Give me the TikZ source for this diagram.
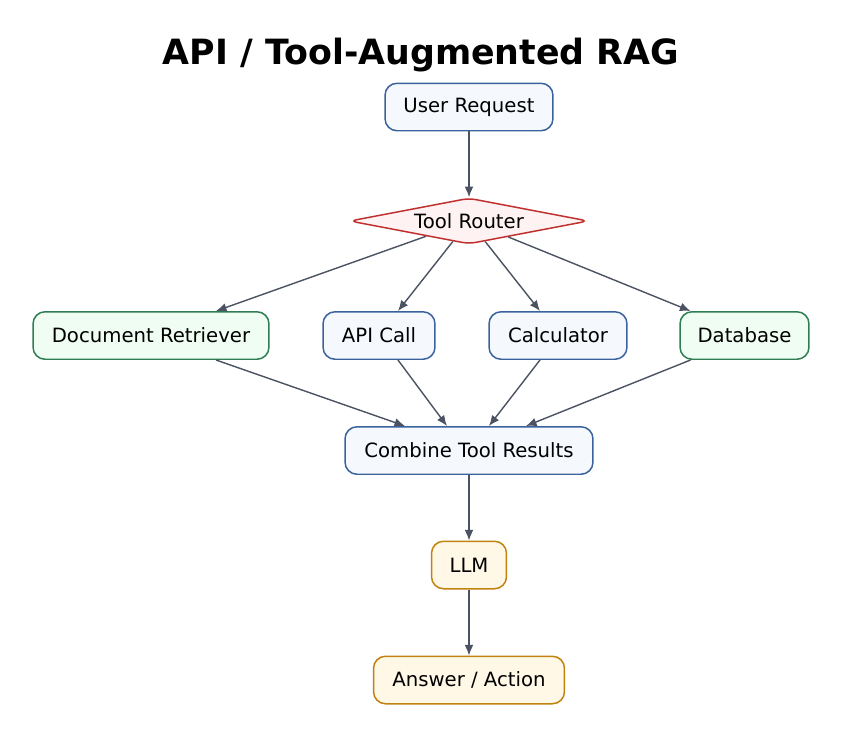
\documentclass[tikz,border=0pt]{standalone}
\usepackage{fontspec}
\setmainfont{DejaVu Sans}
\usepackage{xcolor}
\usetikzlibrary{arrows.meta,positioning,shapes.geometric,calc}

\definecolor{blueline}{HTML}{3A629C}
\definecolor{bluefill}{HTML}{F5F9FE}
\definecolor{greenline}{HTML}{2F7D52}
\definecolor{greenfill}{HTML}{EFFDF3}
\definecolor{orangeline}{HTML}{C2820E}
\definecolor{orangefill}{HTML}{FFF8E7}
\definecolor{redline}{HTML}{C0302F}
\definecolor{redfill}{HTML}{FFF2F2}
\definecolor{edgecol}{HTML}{4B5262}

\begin{document}
\begin{tikzpicture}[
  x=0.02cm, y=-0.02cm,
  cell/.style={draw, rounded corners=0.24cm, line width=0.85pt, minimum height=0.95cm, inner sep=0pt, font=\fontsize{11.2}{13}\selectfont},
  bluecell/.style={cell, draw=blueline, fill=bluefill},
  greencell/.style={cell, draw=greenline, fill=greenfill},
  orangecell/.style={cell, draw=orangeline, fill=orangefill},
  router/.style={diamond, aspect=5, draw=redline, fill=redfill, line width=0.85pt, rounded corners=4pt, minimum width=4.78cm, minimum height=0.92cm, inner sep=0pt, font=\fontsize{11.2}{13}\selectfont},
  arr/.style={-{Latex[length=6pt,width=5pt]}, draw=edgecol, line width=0.8pt}
]
\useasboundingbox (0,0) rectangle (843,738);
\node[font=\fontsize{19.8}{23}\selectfont\bfseries] (title) at (421,55) {API / Tool-Augmented RAG};

\node[bluecell, minimum width=3.36cm] (user) at (469,107) {User Request};
\node[router] (tr) at (469,221) {Tool Router};
\node[greencell, minimum width=4.72cm] (doc) at (151,335.5) {Document Retriever};
\node[bluecell, minimum width=2.24cm] (api) at (379,335.5) {API Call};
\node[bluecell, minimum width=2.76cm] (calc) at (558,335.5) {Calculator};
\node[greencell, minimum width=2.58cm] (db) at (744.5,335.5) {Database};
\node[bluecell, minimum width=4.96cm] (comb) at (469,450.5) {Combine Tool Results};
\node[orangecell, minimum width=1.5cm] (llm) at (469,565) {LLM};
\node[orangecell, minimum width=3.82cm] (ans) at (469,680) {Answer / Action};

\draw[arr] (user) -- (tr);
\draw[arr] (tr) -- ($(doc.north)+(65,0)$);
\draw[arr] (tr) -- ($(api.north)+(19,0)$);
\draw[arr] (tr) -- ($(calc.north)+(-18,0)$);
\draw[arr] (tr) -- ($(db.north)+(-54,0)$);
\draw[arr] ($(doc.south)+(65,0)$) -- ($(comb.north)+(-64,0)$);
\draw[arr] ($(api.south)+(19,0)$) -- ($(comb.north)+(-22,0)$);
\draw[arr] ($(calc.south)+(-18,0)$) -- ($(comb.north)+(20,0)$);
\draw[arr] ($(db.south)+(-54,0)$) -- ($(comb.north)+(57,0)$);
\draw[arr] (comb) -- (llm);
\draw[arr] (llm) -- (ans);
\end{tikzpicture}
\end{document}
